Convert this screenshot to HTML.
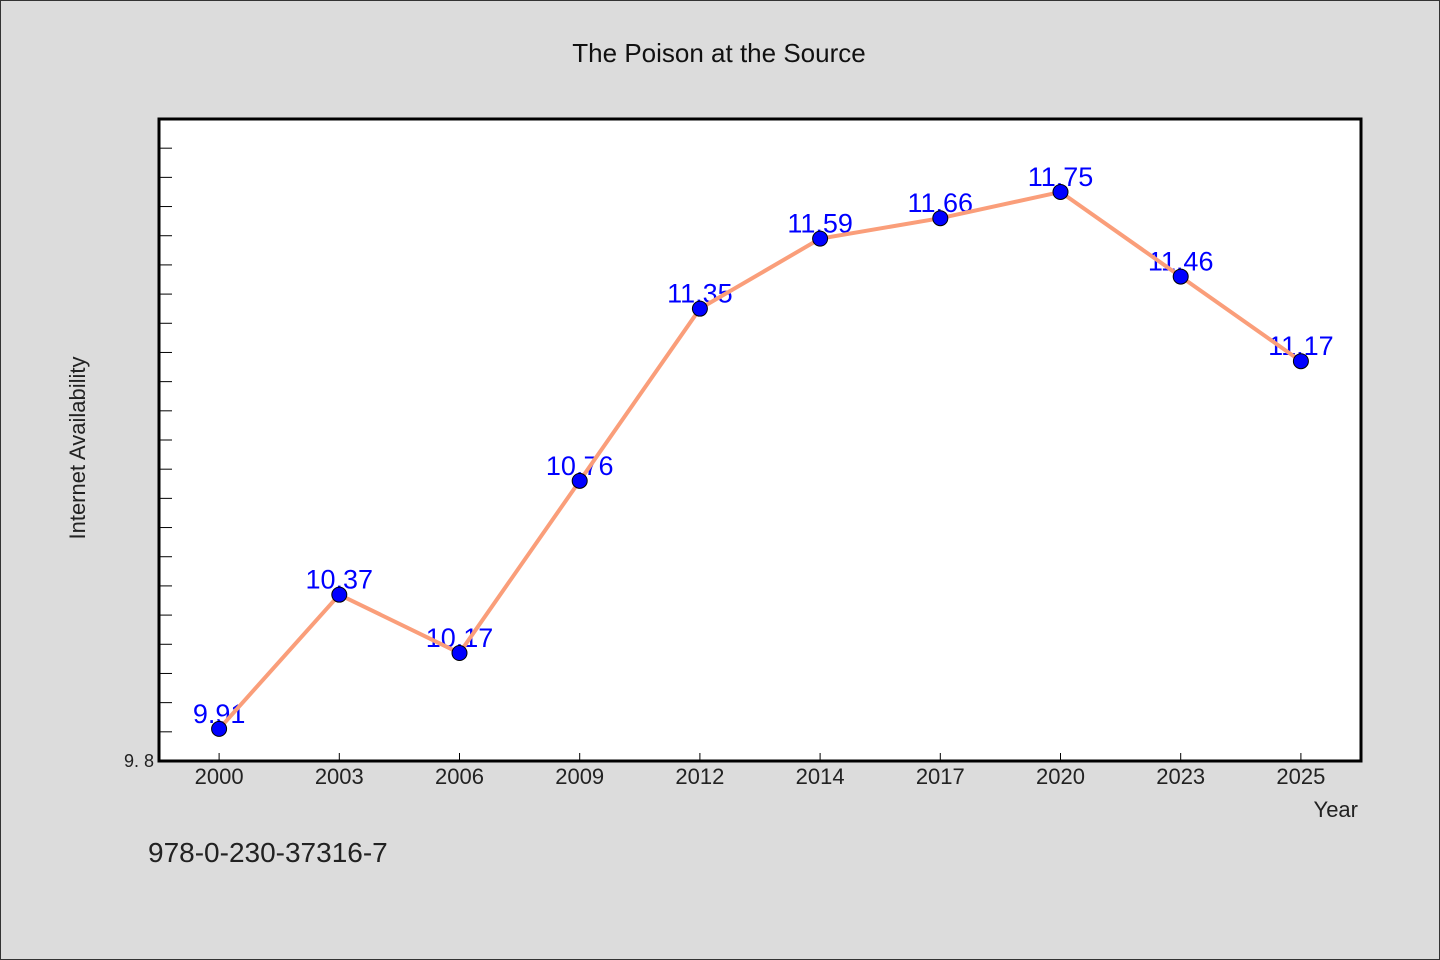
<!DOCTYPE html>
<html><head><meta charset="utf-8"><style>
body{margin:0;background:#dcdcdc;}
svg{display:block;font-family:"WenQuanYi Zen Hei","Liberation Sans",sans-serif;}
</style></head><body>
<svg id="chart" width="1440" height="960">
<rect x="0.5" y="0.5" width="1439" height="959" fill="#dcdcdc" stroke="#333"/>
<text x="719" y="62" text-anchor="middle" font-size="26" fill="#111">The Poison at the Source</text>
<rect x="159" y="119" width="1202" height="642" fill="#fff" stroke="#000" stroke-width="3"/>
<text transform="translate(85,448) rotate(-90)" text-anchor="middle" font-size="22" fill="#222">Internet Availability</text>
<text x="1358" y="817" text-anchor="end" font-size="22" fill="#222">Year</text>
<text x="148" y="862" font-size="28" fill="#222">978-0-230-37316-7</text>
<g id="axes"></g><g id="labels"></g><g id="series"></g>
</svg>
<script>
const categories=["2000","2003","2006","2009","2012","2014","2017","2020","2023","2025"];
const values=[9.91,10.37,10.17,10.76,11.35,11.59,11.66,11.75,11.46,11.17];
const yTickLabels=["9.8"];
const yMin=9.8,yMax=12.0;
const L=159,R=1361,T=119,B=761;
const NS="http://www.w3.org/2000/svg";
const bw=(R-L)/categories.length;
function x(i){return L+bw*(i+0.5);}
function y(v){return B-(v-yMin)/(yMax-yMin)*(B-T);}
function mk(t,a,p){const e=document.createElementNS(NS,t);for(const k in a)e.setAttribute(k,a[k]);p.appendChild(e);return e;}
const axes=document.getElementById('axes'),labels=document.getElementById('labels'),series=document.getElementById('series');
for(let v=yMin+0.1;v<yMax-0.001;v+=0.1){
 const t=mk('line',{x1:L,x2:L+13,y1:y(v),y2:y(v),stroke:'#000','stroke-width':1},axes);
 
 
}
yTickLabels.forEach(s=>{
 const t=mk('text',{x:L-5,y:y(parseFloat(s))+6,'text-anchor':'end','font-size':18,fill:'#222'},axes);
 t.textContent=s.replace('.','. ');
 
 
});
categories.forEach((c,i)=>{
 const t=mk('line',{x1:x(i),x2:x(i),y1:B,y2:B-8,stroke:'#000','stroke-width':1},axes);
 
 
 const l=mk('text',{x:x(i),y:B+23,'text-anchor':'middle','font-size':22,fill:'#222'},axes);
 l.textContent=c;
 
 
});
values.forEach((v,i)=>{
 const t=mk('text',{x:x(i),y:y(v)-6,'text-anchor':'middle','font-size':27,fill:'#0000ff'},labels);
 t.textContent=v.toFixed(2);
 
 
});
const line=mk('polyline',{points:values.map((v,i)=>x(i)+','+y(v)).join(' '),fill:'none',stroke:'#fa9e7a','stroke-width':4},series);


values.forEach((v,i)=>{
 const c=mk('circle',{cx:x(i),cy:y(v),r:7.5,fill:'#0000ff',stroke:'#000','stroke-width':1},series);
 
 
});
</script>
</body></html>
